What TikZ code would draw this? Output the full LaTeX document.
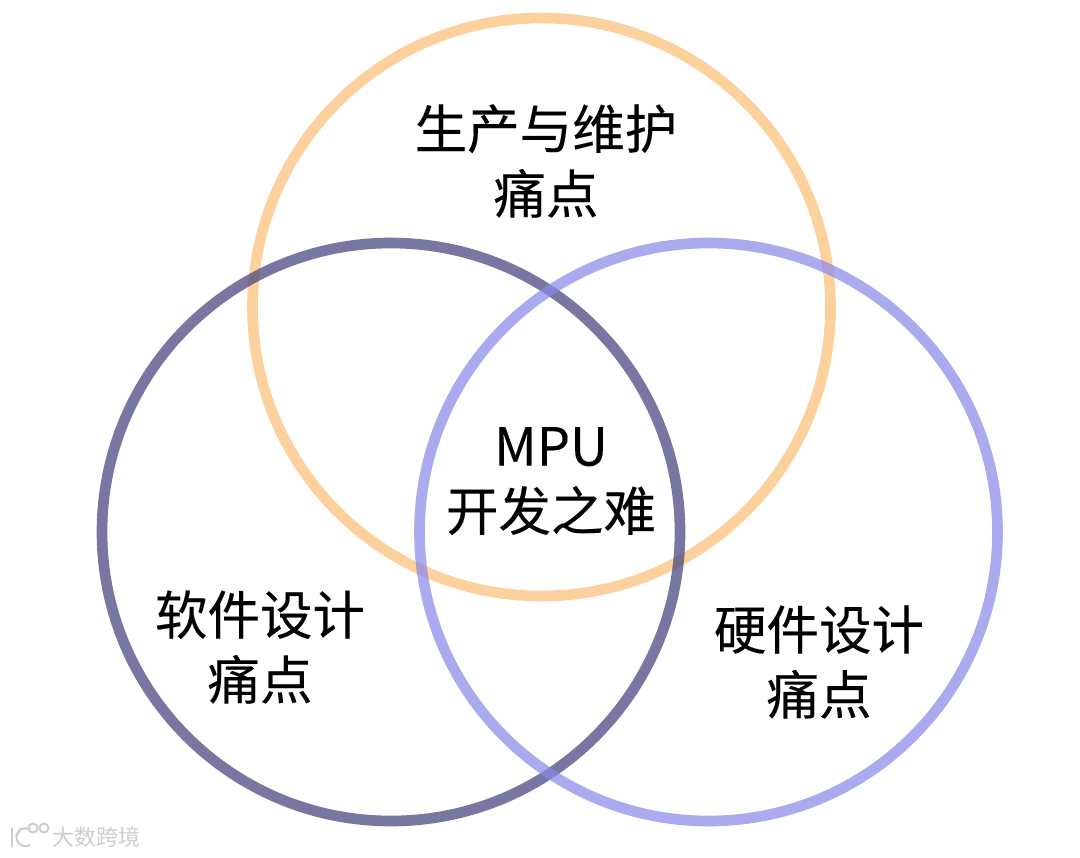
\documentclass[tikz,border=0pt]{standalone}
\usepackage{fontspec}
\newfontfamily\cjk[FakeBold=0.25]{Noto Sans CJK SC}
\newfontfamily\cjkplain{Noto Sans CJK SC}
\definecolor{orangering}{HTML}{FBC078}
\definecolor{darkring}{HTML}{45437F}
\definecolor{bluering}{HTML}{8A8AE8}
\definecolor{markgray}{HTML}{CDCDCD}
\tikzset{
  ring/.style={circle,draw=#1,draw opacity=.72,line width=8pt,minimum size=433.5pt,inner sep=0pt,fill=none},
  lab/.style={font=\cjk\fontsize{39.4pt}{48.7pt}\selectfont,align=center,text=black,inner sep=0pt},
  wmark/.style={font=\cjkplain\fontsize{16.5pt}{18pt}\selectfont,text=markgray,inner sep=0pt},
  logo/.style={draw=markgray,line width=1.5pt,fill=none}
}
\begin{document}
\begin{tikzpicture}[x=0.75pt,y=-0.75pt]
\useasboundingbox (0,0) rectangle (1080,857);
\fill[white] (0,0) rectangle (1080,857);
\node[ring=orangering] (top) at (541.5,307) {};
\node[ring=darkring] (left) at (391,532) {};
\node[ring=bluering] (right) at (708.5,532) {};
\node[lab] (t1) at (546,161) {生产与维护\\痛点};
\node[lab] (t2) at (551,481) {MPU\\开发之难};
\node[lab] (t3) at (260,647) {软件设计\\痛点};
\node[lab] (t4) at (819,662) {硬件设计\\痛点};
\node[wmark] (wm) at (96,837) {大数跨境};
\draw[logo] (12,828) -- (12,847);
\draw[logo] (16,836) -- (21,828);
\draw[logo] (30,845) arc (60:300:9);
\draw[logo] (33,828) circle (4.5);
\draw[logo] (44,828) circle (4.5);
\end{tikzpicture}
\end{document}
